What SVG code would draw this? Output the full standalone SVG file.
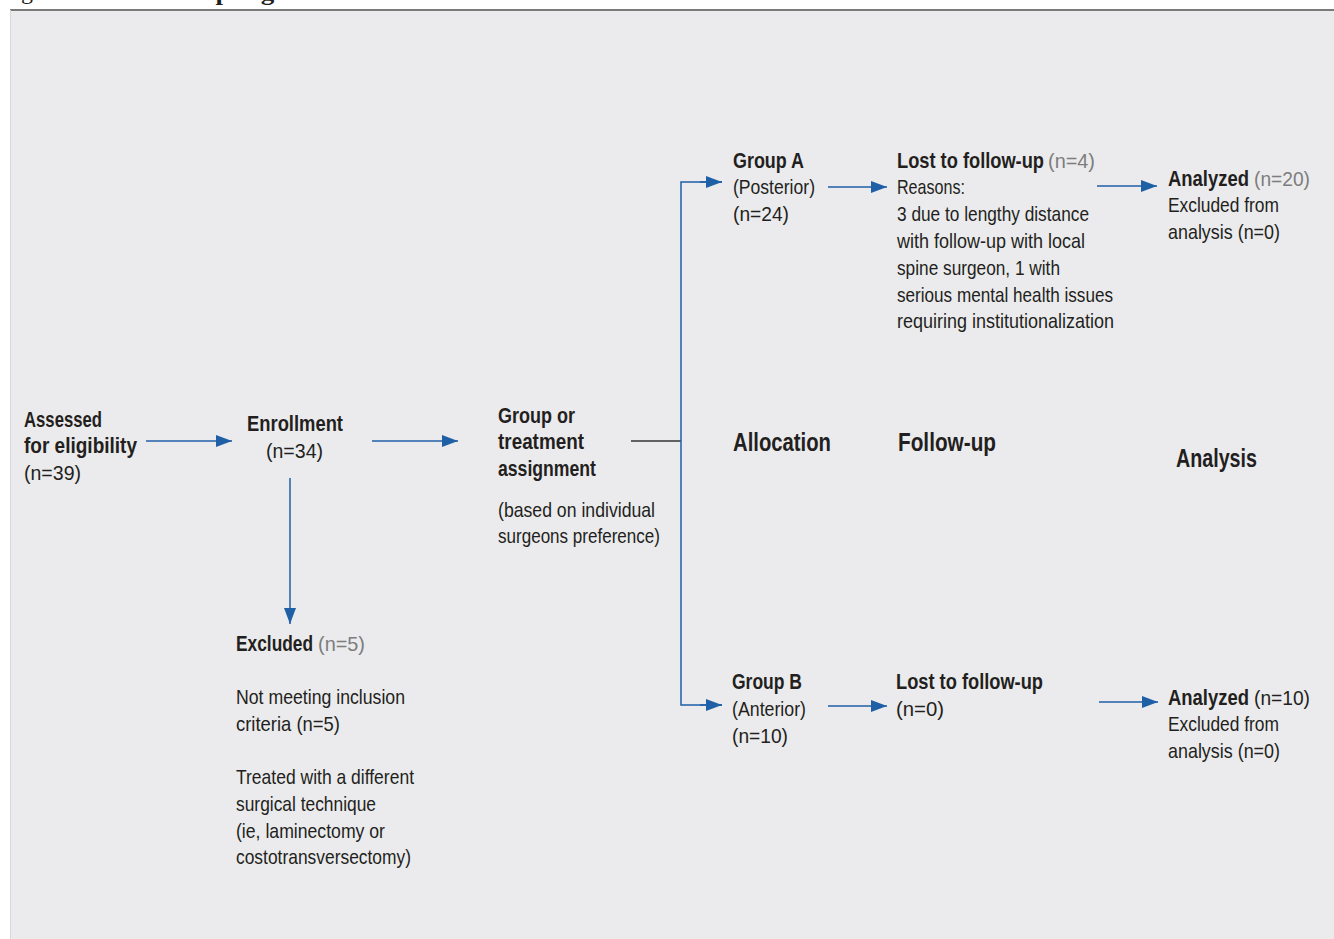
<svg xmlns="http://www.w3.org/2000/svg" width="1334" height="939" viewBox="0 0 1334 939">
<defs>
<style>
text{font-family:"Liberation Sans",Arial,sans-serif;font-size:21px;fill:#231f20}
.b{font-weight:bold;font-size:22px}
.h{font-weight:bold;font-size:25px}
.g{fill:#7d7d7d;font-weight:normal;font-size:21px}
.t{font-family:"Liberation Serif",serif;font-size:24px}
.c{stroke:#1f5fa6;stroke-width:1.5;fill:none}
</style>
<marker id="ah" viewBox="0 0 16 12" refX="16" refY="6" markerWidth="16" markerHeight="12" markerUnits="userSpaceOnUse" orient="auto">
<path d="M0,0 L16,6 L0,12 Z" fill="#1f5fa6"/>
</marker>
</defs>
<rect x="0" y="0" width="1334" height="939" fill="#ffffff"/>
<rect x="10" y="10" width="1324" height="929" fill="#ebebed"/>
<line x1="10" y1="10" x2="1334" y2="10" stroke="#7a7a7a" stroke-width="2"/>
<line x1="10.5" y1="10" x2="10.5" y2="939" stroke="#d8d8da" stroke-width="1"/>
<g id="title">
<text class="t" x="1" y="-1" font-size="20">Figure 1</text>
<text class="t" x="75" y="-0.5" font-weight="bold" textLength="500" lengthAdjust="spacingAndGlyphs">Patient Sampling and Selection Flow Chart</text>
</g>
<g id="connectors">
<line class="c" x1="146" y1="441" x2="232" y2="441" marker-end="url(#ah)"/>
<line class="c" x1="372" y1="441" x2="458" y2="441" marker-end="url(#ah)"/>
<line class="c" x1="290" y1="478" x2="290" y2="624" marker-end="url(#ah)"/>
<line x1="631" y1="441" x2="681" y2="441" stroke="#333333" stroke-width="1.5"/>
<polyline class="c" points="722,182 681,182 681,705 722,705"/>
<line class="c" x1="700" y1="182" x2="722" y2="182" marker-end="url(#ah)"/>
<line class="c" x1="700" y1="705" x2="722" y2="705" marker-end="url(#ah)"/>
<line class="c" x1="828" y1="187" x2="887" y2="187" marker-end="url(#ah)"/>
<line class="c" x1="1097" y1="186" x2="1157" y2="186" marker-end="url(#ah)"/>
<line class="c" x1="828" y1="706" x2="887" y2="706" marker-end="url(#ah)"/>
<line class="c" x1="1099" y1="702" x2="1158" y2="702" marker-end="url(#ah)"/>
</g>
<g id="assessed">
<text class="b" x="24" y="427" textLength="78" lengthAdjust="spacingAndGlyphs">Assessed</text>
<text class="b" x="24" y="453" textLength="113" lengthAdjust="spacingAndGlyphs">for eligibility</text>
<text x="24" y="480" textLength="57" lengthAdjust="spacingAndGlyphs">(n=39)</text>
</g>
<g id="enrollment">
<text class="b" x="247" y="431" textLength="96" lengthAdjust="spacingAndGlyphs">Enrollment</text>
<text x="266" y="458" textLength="57" lengthAdjust="spacingAndGlyphs">(n=34)</text>
</g>
<g id="assignment">
<text class="b" x="498" y="423" textLength="77" lengthAdjust="spacingAndGlyphs">Group or</text>
<text class="b" x="498" y="449" textLength="86" lengthAdjust="spacingAndGlyphs">treatment</text>
<text class="b" x="498" y="476" textLength="98" lengthAdjust="spacingAndGlyphs">assignment</text>
<text x="498" y="517" textLength="157" lengthAdjust="spacingAndGlyphs">(based on individual</text>
<text x="498" y="543" textLength="162" lengthAdjust="spacingAndGlyphs">surgeons preference)</text>
</g>
<g id="excluded">
<text y="651"><tspan class="b" x="236" textLength="77" lengthAdjust="spacingAndGlyphs">Excluded</tspan><tspan class="g" x="318" textLength="47" lengthAdjust="spacingAndGlyphs">(n=5)</tspan></text>
<text x="236" y="704" textLength="169" lengthAdjust="spacingAndGlyphs">Not meeting inclusion</text>
<text x="236" y="731" textLength="104" lengthAdjust="spacingAndGlyphs">criteria (n=5)</text>
<text x="236" y="784" textLength="178" lengthAdjust="spacingAndGlyphs">Treated with a different</text>
<text x="236" y="811" textLength="140" lengthAdjust="spacingAndGlyphs">surgical technique</text>
<text x="236" y="838" textLength="149" lengthAdjust="spacingAndGlyphs">(ie, laminectomy or</text>
<text x="236" y="864" textLength="175" lengthAdjust="spacingAndGlyphs">costotransversectomy)</text>
</g>
<g id="groupA">
<text class="b" x="733" y="168" textLength="71" lengthAdjust="spacingAndGlyphs">Group A</text>
<text x="733" y="194" textLength="82" lengthAdjust="spacingAndGlyphs">(Posterior)</text>
<text x="733" y="221" textLength="56" lengthAdjust="spacingAndGlyphs">(n=24)</text>
</g>
<g id="lostA">
<text y="168"><tspan class="b" x="897" textLength="147" lengthAdjust="spacingAndGlyphs">Lost to follow-up</tspan><tspan class="g" x="1048" textLength="47" lengthAdjust="spacingAndGlyphs">(n=4)</tspan></text>
<text x="897" y="194" textLength="68" lengthAdjust="spacingAndGlyphs">Reasons:</text>
<text x="897" y="221" textLength="192" lengthAdjust="spacingAndGlyphs">3 due to lengthy distance</text>
<text x="897" y="248" textLength="188" lengthAdjust="spacingAndGlyphs">with follow-up with local</text>
<text x="897" y="275" textLength="163" lengthAdjust="spacingAndGlyphs">spine surgeon, 1 with</text>
<text x="897" y="302" textLength="216" lengthAdjust="spacingAndGlyphs">serious mental health issues</text>
<text x="897" y="328" textLength="217" lengthAdjust="spacingAndGlyphs">requiring institutionalization</text>
</g>
<g id="analyzedA">
<text y="186"><tspan class="b" x="1168" textLength="81" lengthAdjust="spacingAndGlyphs">Analyzed</tspan><tspan class="g" x="1254" textLength="56" lengthAdjust="spacingAndGlyphs">(n=20)</tspan></text>
<text x="1168" y="212" textLength="111" lengthAdjust="spacingAndGlyphs">Excluded from</text>
<text x="1168" y="239" textLength="112" lengthAdjust="spacingAndGlyphs">analysis (n=0)</text>
</g>
<g id="labels">
<text class="h" x="733" y="451" textLength="98" lengthAdjust="spacingAndGlyphs">Allocation</text>
<text class="h" x="898" y="451" textLength="98" lengthAdjust="spacingAndGlyphs">Follow-up</text>
<text class="h" x="1176" y="467" textLength="81" lengthAdjust="spacingAndGlyphs">Analysis</text>
</g>
<g id="groupB">
<text class="b" x="732" y="689" textLength="70" lengthAdjust="spacingAndGlyphs">Group B</text>
<text x="732" y="716" textLength="74" lengthAdjust="spacingAndGlyphs">(Anterior)</text>
<text x="732" y="743" textLength="56" lengthAdjust="spacingAndGlyphs">(n=10)</text>
</g>
<g id="lostB">
<text class="b" x="896" y="689" textLength="147" lengthAdjust="spacingAndGlyphs">Lost to follow-up</text>
<text x="896" y="716" textLength="48" lengthAdjust="spacingAndGlyphs">(n=0)</text>
</g>
<g id="analyzedB">
<text y="705"><tspan class="b" x="1168" textLength="81" lengthAdjust="spacingAndGlyphs">Analyzed</tspan><tspan x="1254" textLength="56" lengthAdjust="spacingAndGlyphs" font-weight="normal" font-size="21">(n=10)</tspan></text>
<text x="1168" y="731" textLength="111" lengthAdjust="spacingAndGlyphs">Excluded from</text>
<text x="1168" y="758" textLength="112" lengthAdjust="spacingAndGlyphs">analysis (n=0)</text>
</g>
</svg>
